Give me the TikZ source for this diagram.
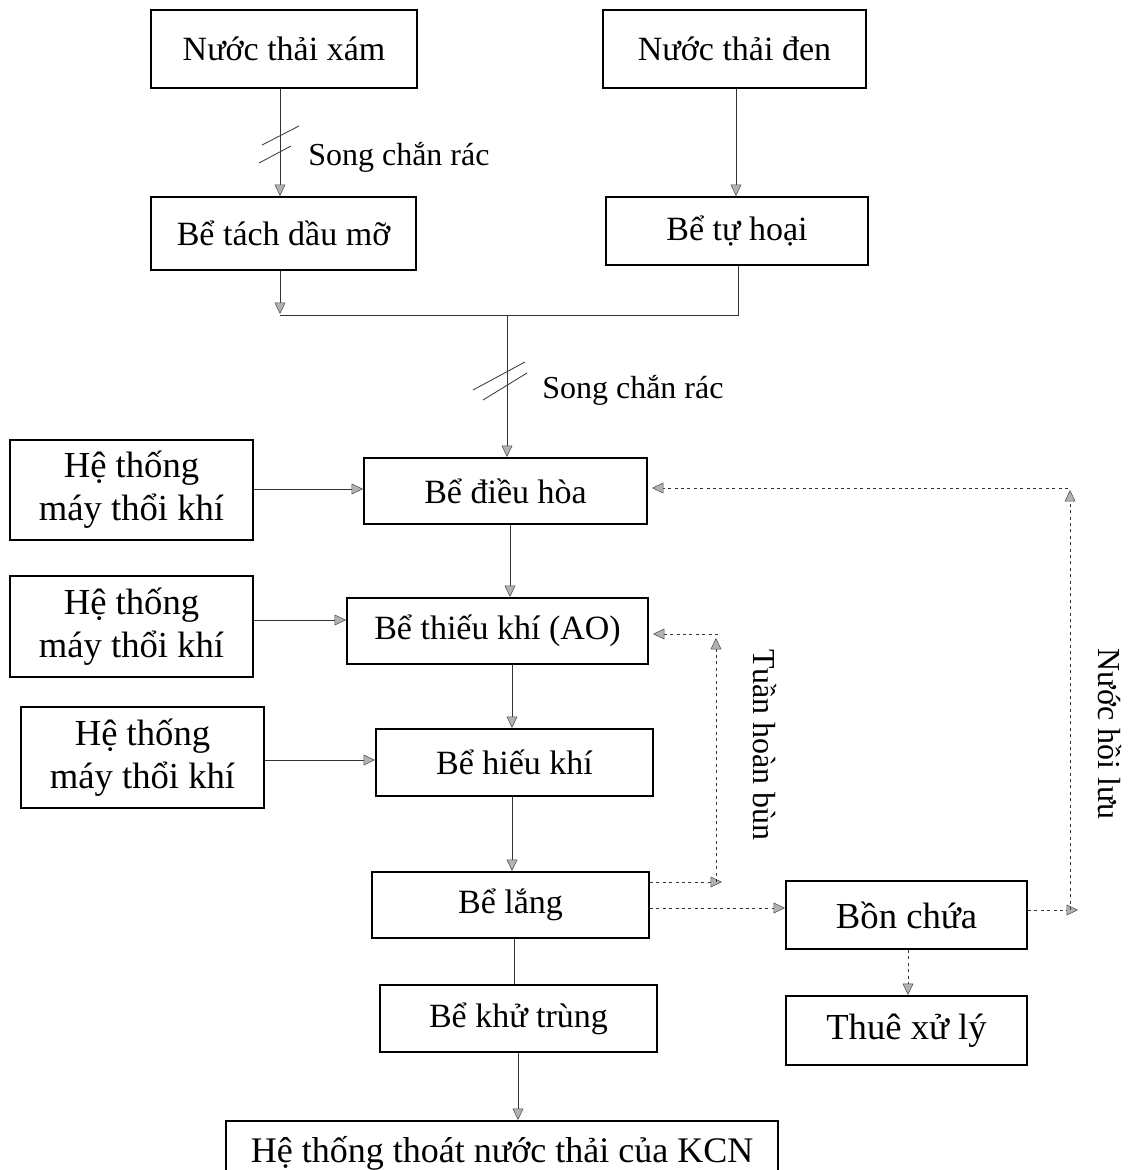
\documentclass[tikz,border=0pt]{standalone}
\usepackage{fontspec}
\setmainfont{Liberation Serif}
\usetikzlibrary{arrows.meta,calc}
\begin{document}
\begin{tikzpicture}[x=0.75pt,y=-0.75pt,
  box/.style 2 args={draw=black, line width=1.5pt, minimum width=#1*0.75pt, minimum height=#2*0.75pt, inner sep=0pt, align=center, font=\fontsize{25.5}{30}\selectfont},
  bigbox/.style 2 args={box={#1}{#2}, font=\fontsize{27.5}{32}\selectfont},
  arr/.style={draw=black!80, line width=0.6pt, -{Triangle[length=8.5pt,width=8pt,fill=gray!60,color=black!70,line width=0.4pt]}},
  plain/.style={draw=black!80, line width=0.6pt},
  dotarr/.style={arr, dash pattern=on 2.2pt off 2.6pt},
  lbl/.style={font=\fontsize{24}{28}\selectfont, inner sep=0pt},
  slash/.style={draw=black!80, line width=0.6pt}
]
\useasboundingbox (0,0) rectangle (1141,1170);
\clip (0,0) rectangle (1141,1170);
\fill[white] (0,0) rectangle (1141,1170);

% boxes
\node[box={266}{78}] (xam) at (284,49) {Nước thải xám};
\node[box={263}{78}] (den) at (734.5,49) {Nước thải đen};
\node[box={265}{73}] (tach) at (283.5,233.5) {Bể tách dầu mỡ};
\node[box={262}{68}] (tuhoai) at (737,231) {Bể tự hoại};
\node[box={283}{66}] (dieuhoa) at (505.5,491) {Bể điều hòa};
\node[bigbox={243}{100}] (ht1) at (131.5,490) {Hệ thống\\máy thổi khí};
\node[box={301}{66}] (thieukhi) at (497.5,631) {Bể thiếu khí (AO)};
\node[bigbox={243}{101}] (ht2) at (131.5,626.5) {Hệ thống\\máy thổi khí};
\node[box={277}{67}] (hieukhi) at (514.5,762.5) {Bể hiếu khí};
\node[bigbox={243}{101}] (ht3) at (142.5,757.5) {Hệ thống\\máy thổi khí};
\node[box={277}{66}] (lang) at (510.5,905) {Bể lắng};
\node[box={277}{67}] (khutrung) at (518.5,1018.5) {Bể khử trùng};
\node[bigbox={241}{68}] (bonchua) at (906.5,915) {Bồn chứa};
\node[bigbox={241}{69}] (thue) at (906.5,1030.5) {Thuê xử lý};
\node[draw=black, line width=1.5pt, anchor=north, minimum width=552*0.75pt, text height=22pt, text depth=6pt, inner ysep=9pt, inner xsep=0pt, font=\fontsize{27}{32}\selectfont] (kcn) at (502,1120) {Hệ thống thoát nước thải của KCN};

% top left branch with screen
\coordinate (s1) at (280,144);
\draw[arr] (xam.south -| s1) -- (tach.north -| s1);
\draw[slash] ($(s1)+(-18,1)$) -- ($(s1)+(19,-18)$);
\draw[slash] ($(s1)+(-21,19)$) -- ($(s1)+(11,2)$);
\node[lbl, anchor=west] (sc1) at (308,157) {Song chắn rác};

% top right branch
\coordinate (c2) at (736,0);
\draw[arr] (den.south -| c2) -- (tuhoai.north -| c2);

% merge
\coordinate (j) at (507,315);
\coordinate (cl) at (280,315);
\coordinate (cr) at (738,315);
\draw[arr] (tach.south -| cl) -- ($(cl)+(0,-1)$);
\draw[plain] (cl) -- (cr) -- (tuhoai.south -| cr);

% main screen
\coordinate (s2) at (507,379);
\draw[arr] (j) -- (dieuhoa.north -| j);
\draw[slash] ($(s2)+(-34,11)$) -- ($(s2)+(18,-17)$);
\draw[slash] ($(s2)+(-24,21)$) -- ($(s2)+(20,-6)$);
\node[lbl, anchor=west] (sc2) at (542,390) {Song chắn rác};

% blowers
\draw[arr] (ht1.east |- 0,489) -- (dieuhoa.west |- 0,489);
\draw[arr] (ht2.east |- 0,620) -- (thieukhi.west |- 0,620);
\draw[arr] (ht3.east |- 0,760) -- (hieukhi.west |- 0,760);

% main chain
\draw[arr] (dieuhoa.south -| 510,0) -- (thieukhi.north -| 510,0);
\draw[arr] (thieukhi.south -| 512,0) -- (hieukhi.north -| 512,0);
\draw[arr] (hieukhi.south -| 512,0) -- (lang.north -| 512,0);
\draw[plain] (lang.south -| 514,0) -- (khutrung.north -| 514,0);
\draw[arr] (khutrung.south -| 518,0) -- (kcn.north -| 518,0);

% sludge recirculation
\coordinate (r1) at (722,882);
\coordinate (r2) at (716,882);
\coordinate (r3) at (716,638);
\coordinate (r4) at (718,634);
\draw[dotarr] (lang.east |- r1) -- (r1);
\draw[dotarr] (r2) -- (r3);
\draw[dotarr] (r4) -- ($(thieukhi.east |- r4)+(4,0)$);
\node[lbl, rotate=-90] (thb) at (765,745) {Tuần hoàn bùn};

% storage
\draw[dotarr] (lang.east |- 0,908) -- (bonchua.west |- 0,908);
\draw[dotarr] (bonchua.south -| 908,0) -- (thue.north -| 908,0);

% return water
\coordinate (h1) at (1078,910);
\coordinate (h2) at (1070,910);
\coordinate (h3) at (1070,490);
\coordinate (h4) at (1068,488);
\draw[dotarr] (bonchua.east |- h1) -- (h1);
\draw[dotarr] (h2) -- (h3);
\draw[dotarr] (h4) -- ($(dieuhoa.east |- h4)+(4,0)$);
\node[lbl, rotate=-90] (nhl) at (1110,734) {Nước hồi lưu};
\end{tikzpicture}
\end{document}
